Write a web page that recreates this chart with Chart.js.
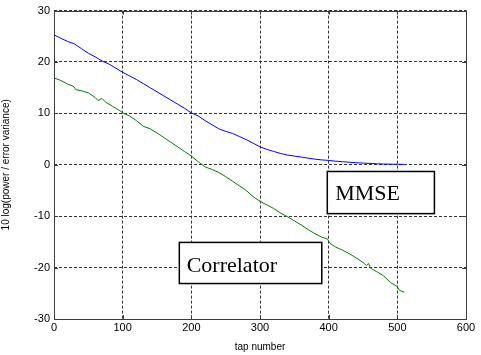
<!DOCTYPE html>
<html>
<head>
<meta charset="utf-8">
<script src="https://cdn.jsdelivr.net/npm/chart.js@4/dist/chart.umd.min.js"></script>
<style>
    html, body { margin: 0; padding: 0; background: #fff; }
</style>
</head>
<body>
<canvas id="chart" width="481" height="355"></canvas>
<script>
// MMSE curve (blue)
const mmseTaps = [0, 10, 20, 30, 40, 50, 60, 70, 80, 90, 100, 110, 120, 130, 140, 150, 160, 170, 180, 190,
    200, 210, 220, 230, 240, 250, 260, 270, 280, 290, 300, 310, 320, 330, 340, 350, 360, 370, 380, 390,
    400, 410, 420, 430, 440, 450, 460, 470, 480, 490, 500, 510];
const mmseValues = [25.3, 24.6, 24.0, 23.5, 22.6, 21.7, 21.0, 20.2, 19.6, 18.8, 18.0, 17.3, 16.6, 15.8, 15.0, 14.2, 13.4, 12.6, 11.8, 11.0,
    10.1, 9.5, 8.6, 7.8, 7.0, 6.5, 6.1, 5.5, 4.9, 4.2, 3.5, 3.0, 2.6, 2.2, 1.9, 1.7, 1.5, 1.3, 1.1, 0.95,
    0.85, 0.7, 0.6, 0.5, 0.4, 0.33, 0.27, 0.2, 0.15, 0.12, 0.1, 0.08];

// Correlator curve (green)
const corrTaps = [0, 10, 20, 28, 32, 40, 50, 60, 64, 70, 75, 85, 95, 100, 110, 120, 130, 140, 150, 160,
    170, 180, 190, 200, 210, 220, 230, 240, 250, 260, 270, 280, 290, 300, 310, 320, 330, 340, 350, 360,
    370, 380, 390, 398, 402, 410, 420, 430, 440, 450, 455, 458, 461, 470, 480, 490, 500, 503, 510];
const corrValues = [16.9, 16.4, 15.7, 15.3, 14.6, 14.4, 14.0, 13.1, 12.5, 12.9, 12.2, 11.4, 10.6, 10.1, 9.5, 8.6, 7.5, 7.0, 6.2, 5.3,
    4.4, 3.5, 2.6, 1.7, 0.6, -0.4, -0.9, -1.5, -2.3, -3.2, -4.1, -5.0, -6.2, -7.1, -7.8, -8.5, -9.4, -10.1, -10.9, -11.7,
    -12.6, -13.4, -14.1, -14.4, -15.3, -16.0, -16.6, -17.3, -18.1, -19.0, -19.6, -19.2, -20.1, -20.8, -21.6, -22.9, -23.7, -24.4, -24.8];

// text boxes, in data units
const boxLabels = ['MMSE', 'Correlator'];
const boxX = [[398, 554], [182.5, 390]];
const boxY = [[-1.3, -9.5], [-15.1, -23.1]];
const boxTextAt = [[409.5, -6.9], [193.2, -20.85]];

const toPoints = (xs, ys) => xs.map((v, i) => ({x: v, y: ys[i]}));

const framePlugin = {
    id: 'frame',
    afterDatasetsDraw(chart) {
        const {ctx, chartArea: a, scales: {x, y}} = chart;
        ctx.save();

        // axes box
        ctx.strokeStyle = '#3c3c3c';
        ctx.lineWidth = 1;
        ctx.setLineDash([]);
        ctx.strokeRect(Math.round(a.left) + 0.5, Math.round(a.top) + 0.5,
            Math.round(a.right - a.left), Math.round(a.bottom - a.top));

        // inward tick marks
        ctx.beginPath();
        x.ticks.forEach(t => {
            const px = Math.round(x.getPixelForValue(t.value)) + 0.5;
            ctx.moveTo(px, a.bottom); ctx.lineTo(px, a.bottom - 4);
            ctx.moveTo(px, a.top); ctx.lineTo(px, a.top + 4);
        });
        y.ticks.forEach(t => {
            const py = Math.round(y.getPixelForValue(t.value)) + 0.5;
            ctx.moveTo(a.left, py); ctx.lineTo(a.left + 4, py);
            ctx.moveTo(a.right, py); ctx.lineTo(a.right - 4, py);
        });
        ctx.stroke();

        // label boxes
        boxLabels.forEach((txt, i) => {
            const l = x.getPixelForValue(boxX[i][0]);
            const r = x.getPixelForValue(boxX[i][1]);
            const t = y.getPixelForValue(boxY[i][0]);
            const b = y.getPixelForValue(boxY[i][1]);
            ctx.fillStyle = '#fff';
            ctx.fillRect(l, t, r - l, b - t);
            ctx.strokeStyle = '#000';
            ctx.lineWidth = 1.5;
            ctx.strokeRect(l, t, r - l, b - t);
            ctx.fillStyle = '#000';
            ctx.font = '22px "Liberation Serif", "Times New Roman", serif';
            ctx.textAlign = 'left';
            ctx.textBaseline = 'alphabetic';
            ctx.fillText(txt, x.getPixelForValue(boxTextAt[i][0]), y.getPixelForValue(boxTextAt[i][1]));
        });

        ctx.restore();
    }
};

const tickFont = {family: '"Liberation Sans", Arial, sans-serif', size: 11};
const titleFont = {family: '"Liberation Sans", Arial, sans-serif', size: 10};

new Chart(document.getElementById('chart'), {
    type: 'line',
    data: {
        datasets: [
            {
                data: toPoints(mmseTaps, mmseValues),
                borderColor: 'rgb(0, 0, 255)',
                borderWidth: 1,
                pointRadius: 0,
                tension: 0
            },
            {
                data: toPoints(corrTaps, corrValues),
                borderColor: 'rgb(0, 128, 0)',
                borderWidth: 1,
                pointRadius: 0,
                tension: 0
            }
        ]
    },
    options: {
        responsive: false,
        animation: false,
        layout: {padding: {left: 0, right: 15, top: 10, bottom: 0}},
        plugins: {
            legend: {display: false},
            tooltip: {enabled: false}
        },
        scales: {
            x: {
                type: 'linear',
                min: 0,
                max: 600,
                ticks: {stepSize: 100, color: '#000', font: tickFont, padding: 2, maxRotation: 0},
                grid: {color: '#333', lineWidth: 1, drawTicks: false},
                border: {display: false, dash: [3, 2]},
                title: {display: true, text: 'tap number', color: '#000', font: titleFont, padding: {top: 0, bottom: 2}},
                afterFit(scale) { scale.height = 36; }
            },
            y: {
                min: -30,
                max: 30,
                ticks: {stepSize: 10, color: '#000', font: tickFont, padding: 4},
                grid: {color: '#333', lineWidth: 1, drawTicks: false},
                border: {display: false, dash: [3, 2]},
                title: {display: true, text: '10 log(power / error variance)', color: '#000', font: titleFont, padding: {top: 0, bottom: 0}},
                afterFit(scale) { scale.width = 54; }
            }
        }
    },
    plugins: [framePlugin]
});
</script>
</body>
</html>
